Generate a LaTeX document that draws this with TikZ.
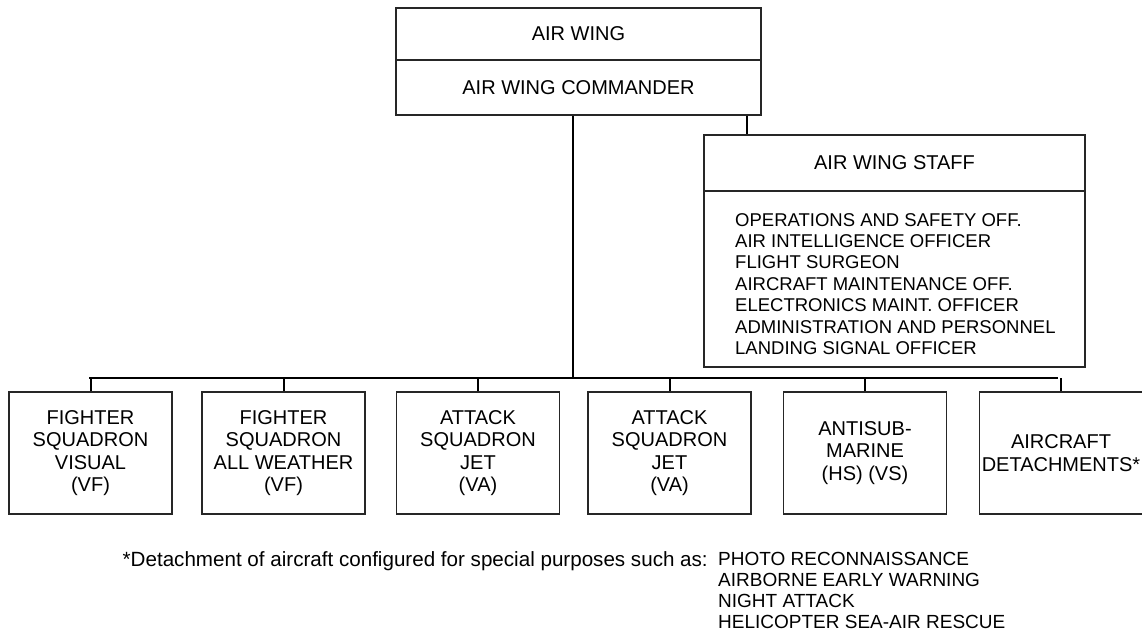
\documentclass[tikz,border=0pt]{standalone}
\usepackage{fontspec}
\setmainfont{Liberation Sans}
\begin{document}
\begin{tikzpicture}[x=1pt,y=-1pt,
  frame/.style={draw=black!85, line width=1.3pt, rectangle, inner sep=0pt, align=center, text=black},
  sq/.style={frame, minimum width=163pt, minimum height=122pt, font=\fontsize{20}{22.5}\selectfont},
  head/.style={frame, font=\fontsize{20}{22.5}\selectfont},
  conn/.style={draw=black, line width=2pt},
  note/.style={inner sep=0pt, align=left, text=black, font=\fontsize{19}{21}\selectfont}]
\useasboundingbox (0,0) rectangle (1142,634);

% top box
\node[head, minimum width=365pt, minimum height=52pt] (aw) at (578.5,34) {AIR WING};
\node[head, minimum width=365pt, minimum height=55pt] (awc) at (578.5,87.5) {AIR WING COMMANDER};

% staff box
\node[head, minimum width=381pt, minimum height=56pt] (staff) at (894.5,163) {AIR WING STAFF};
\node[frame, minimum width=381pt, minimum height=176pt] (stafflist) at (894.5,279) {};
\node[inner sep=0pt, align=left, text=black, font=\fontsize{18.5}{21.4}\selectfont,
      anchor=west] (staffitems) at (735,284)
  {OPERATIONS AND SAFETY OFF.\\
   AIR INTELLIGENCE OFFICER\\
   FLIGHT SURGEON\\
   AIRCRAFT MAINTENANCE OFF.\\
   ELECTRONICS MAINT. OFFICER\\
   ADMINISTRATION AND PERSONNEL\\
   LANDING SIGNAL OFFICER};

% squadron boxes
\node[sq] (s1) at (90.5,453) {FIGHTER\\SQUADRON\\VISUAL\\(VF)};
\node[sq] (s2) at (283.5,453) {FIGHTER\\SQUADRON\\ALL WEATHER\\(VF)};
\node[sq] (s3) at (478,453) {ATTACK\\SQUADRON\\JET\\(VA)};
\node[sq] (s4) at (669.5,453) {ATTACK\\SQUADRON\\JET\\(VA)};
\node[sq] (s5) at (865,453) {ANTISUB-\\MARINE\\(HS) (VS)};
\node[sq] (s6) at (1061,453) {AIRCRAFT\\DETACHMENTS*};

% bus
\coordinate (busL) at (89,378);
\coordinate (busR) at (1058,378);
\draw[conn] (busL) -- (busR);
\draw[conn] ([xshift=-5.5pt]awc.south) -- ([xshift=-5.5pt]awc.south |- busL);
\draw[conn] ([xshift=168.5pt]awc.south) -- ([xshift=168.5pt]awc.south |- staff.north);
\foreach \n in {s1,s2,s3,s4,s5,s6}{
  \draw[conn] (\n.north) -- (\n.north |- busL);
}

% footnote
\node[note, anchor=north east, font=\fontsize{20.6}{21}\selectfont] (fn) at (708,551)
  {*Detachment of aircraft configured for special purposes such as:};
\node[note, anchor=north west] (fnlist) at (718,552)
  {PHOTO RECONNAISSANCE\\
   AIRBORNE EARLY WARNING\\
   NIGHT ATTACK\\
   HELICOPTER SEA-AIR RESCUE};
\end{tikzpicture}
\end{document}
